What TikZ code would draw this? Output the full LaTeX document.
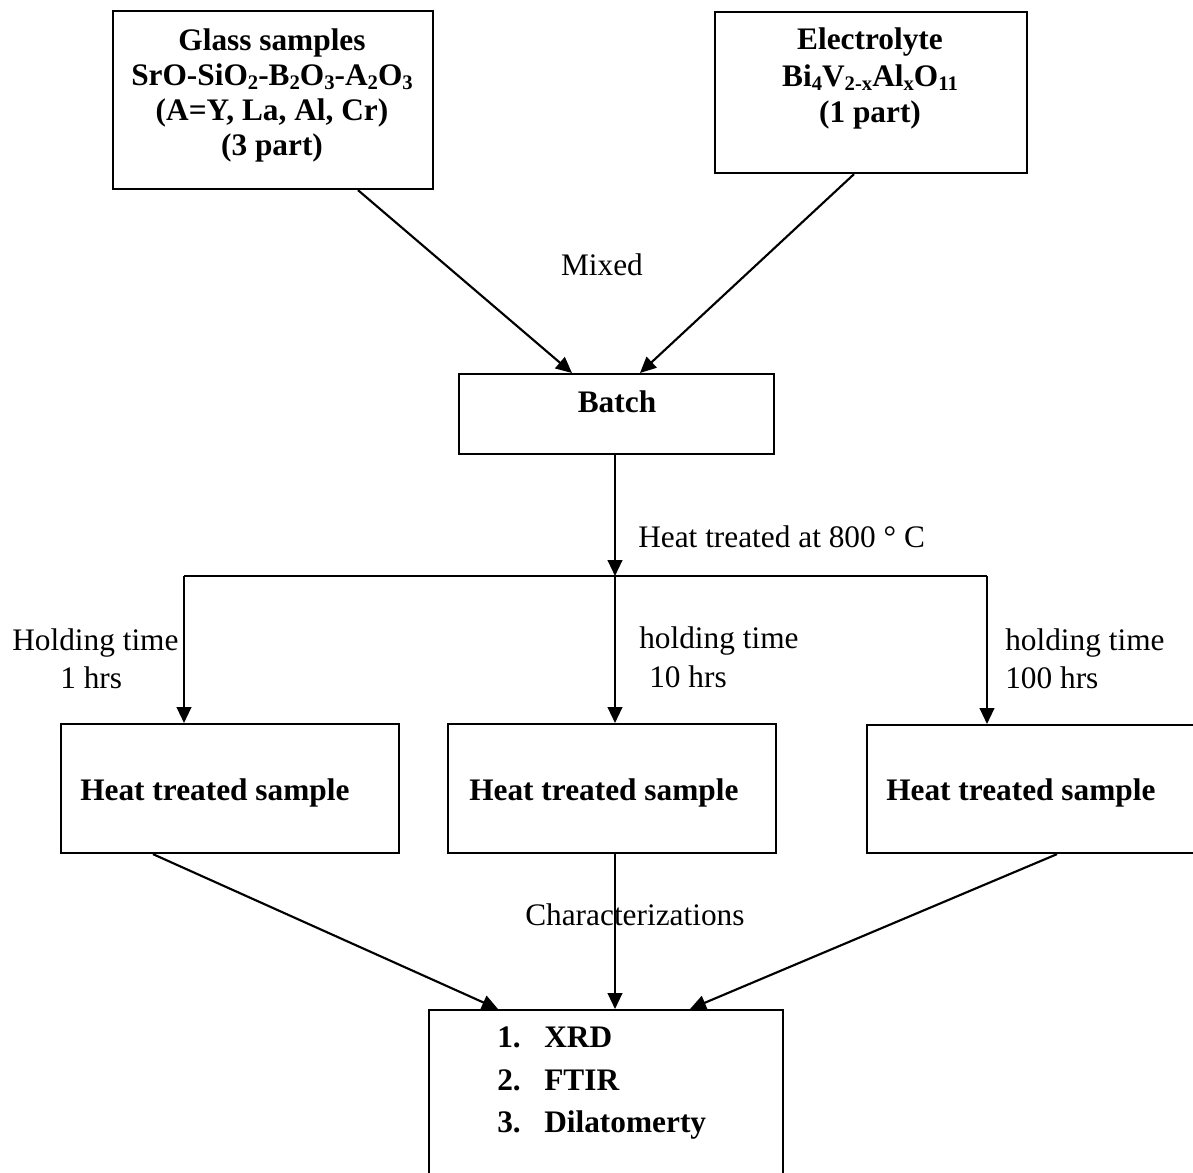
\documentclass[tikz,border=0pt]{standalone}
\usepackage{fontspec}
\setmainfont{Liberation Serif}
\usetikzlibrary{arrows.meta}
\newcommand\sbx[1]{\raisebox{-3.2pt}{\fontsize{15.5}{16}\selectfont #1}}
\tikzset{
  box/.style={draw, line width=1.6pt, rectangle, inner sep=0pt, anchor=north west},
  conn/.style={line width=1.6pt, -{Triangle[length=12pt,width=11pt]}},
  plain/.style={line width=1.6pt},
  txt/.style={inner sep=0pt, font=\fontsize{23.5}{27}\selectfont},
  btxt/.style={txt, font=\fontsize{23.5}{27}\selectfont\bfseries},
}
\begin{document}
\begin{tikzpicture}[x=0.75pt,y=-0.75pt]
\useasboundingbox (0,0) rectangle (1193,1172);
\clip (0,0) rectangle (1193,1172);
% boxes
\node[box, minimum width=240pt, minimum height=133.5pt] (glass) at (112,10) {};
\node[box, minimum width=234pt, minimum height=120.75pt] (elec) at (714,11) {};
\node[box, minimum width=236.25pt, minimum height=60pt] (batch) at (458,373) {};
\node[box, minimum width=253.5pt, minimum height=96.75pt] (ht1) at (60,723) {};
\node[box, minimum width=246pt, minimum height=96.75pt] (ht2) at (447,723) {};
\node[box, minimum width=258pt, minimum height=96pt] (ht3) at (866,724) {};
\node[box, minimum width=265.5pt, minimum height=150pt] (res) at (428,1009) {};
% box texts
\node[btxt, anchor=base] (g1) at (272,50) {Glass samples};
\node[btxt, anchor=base] (g2) at (272,85) {SrO-SiO\sbx{2}-B\sbx{2}O\sbx{3}-A\sbx{2}O\sbx{3}};
\node[btxt, anchor=base] (g3) at (272,120) {(A=Y, La, Al, Cr)};
\node[btxt, anchor=base] (g4) at (272,155) {(3 part)};
\node[btxt, anchor=base] (e1) at (870,49) {Electrolyte};
\node[btxt, anchor=base] (e2) at (870,86) {Bi\sbx{4}V\sbx{2-x}Al\sbx{x}O\sbx{11}};
\node[btxt, anchor=base] (e3) at (870,122) {(1 part)};
\node[btxt, anchor=base] (bt) at (617,412) {Batch};
\node[btxt, anchor=base west] (h1t) at (80,800) {Heat treated sample};
\node[btxt, anchor=base west] (h2t) at (469,800) {Heat treated sample};
\node[btxt, anchor=base west] (h3t) at (886,800) {Heat treated sample};
\node[btxt, anchor=base west] (n1) at (497,1047) {1.};
\node[btxt, anchor=base west] (n2) at (497,1090) {2.};
\node[btxt, anchor=base west] (n3) at (497,1132) {3.};
\node[btxt, anchor=base west] (r1) at (544,1047) {XRD};
\node[btxt, anchor=base west] (r2) at (544,1090) {FTIR};
\node[btxt, anchor=base west] (r3) at (544,1132) {Dilatomerty};
% split coordinates
\coordinate (split) at (615,576);
\coordinate (hl) at (184,576);
\coordinate (hr) at (987,576);
% connectors
\draw[conn] ([xshift=184.5pt]glass.south west) -- ([xshift=85.5pt]batch.north west);
\draw[conn] ([xshift=105pt]elec.south west) -- ([xshift=136.5pt]batch.north west);
\draw[conn] ([xshift=117.75pt]batch.south west) -- (split);
\draw[plain] (hl) -- (hr);
\draw[conn] (hl) -- (hl |- ht1.north);
\draw[conn] (split) -- (split |- ht2.north);
\draw[conn] (hr) -- (hr |- ht3.north);
\draw[conn] ([xshift=69.75pt]ht1.south west) -- ([xshift=52.5pt]res.north west);
\draw[conn] (split |- ht2.south) -- (split |- res.north);
\draw[conn] ([xshift=143.25pt]ht3.south west) -- ([xshift=196.5pt]res.north west);
% labels
\node[txt, anchor=base] (mixed) at (602,275) {Mixed};
\node[txt, anchor=base west] (heat) at (638,547) {Heat treated at 800 ° C};
\node[txt, anchor=base west] (l1a) at (12,650) {Holding time};
\node[txt, anchor=base west] (l1b) at (60,688) {1 hrs};
\node[txt, anchor=base west] (l2a) at (639,648) {holding time};
\node[txt, anchor=base west] (l2b) at (649,687) {10 hrs};
\node[txt, anchor=base west] (l3a) at (1005,650) {holding time};
\node[txt, anchor=base west] (l3b) at (1005,688) {100 hrs};
\node[txt, anchor=base west] (chr) at (525,925) {Characterizations};
\end{tikzpicture}
\end{document}
